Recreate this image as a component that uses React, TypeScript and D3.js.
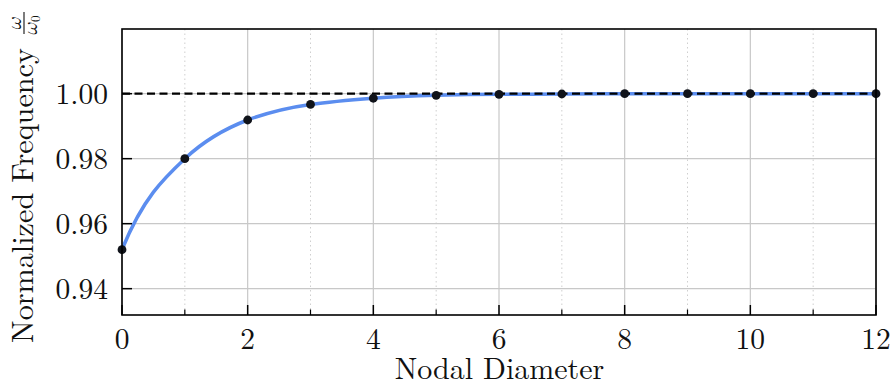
import React from "react";
import * as d3 from "d3";

const nodalDiameters = [0, 1, 2, 3, 4, 5, 6, 7, 8, 9, 10, 11, 12];
const normFreq = [0.952, 0.98, 0.9919, 0.9967, 0.9986, 0.9995, 0.9998, 0.9999, 1.0, 1.0, 1.0, 1.0, 1.0];
const xMajorTicks = [0, 2, 4, 6, 8, 10, 12];
const xMinorTicks = [1, 3, 5, 7, 9, 11];
const yTicks = [0.94, 0.96, 0.98, 1.0];
const refValue = 1.0;

const W = 892;
const H = 387;
const M = { left: 122, right: 16, top: 29, bottom: 72 };
const TS: React.CSSProperties = { fontFamily: '"Latin Modern Roman", serif' };
const MS: React.CSSProperties = { fontFamily: '"Latin Modern Math", "Latin Modern Roman", serif' };

// Smooth monotone cubic Hermite curve (d3 custom curve interface).
function smoothCurve(context: any) {
  let xs: number[] = [];
  let ys: number[] = [];
  return {
    areaStart() {},
    areaEnd() {},
    lineStart() {
      xs = [];
      ys = [];
    },
    point(x: number, y: number) {
      xs.push(+x);
      ys.push(+y);
    },
    lineEnd() {
      const n = xs.length;
      if (!n) return;
      context.moveTo(xs[0], ys[0]);
      if (n === 1) return;
      const s: number[] = [];
      for (let i = 0; i < n - 1; i++) s.push((ys[i + 1] - ys[i]) / (xs[i + 1] - xs[i]));
      const m: number[] = new Array(n).fill(0);
      for (let i = 1; i < n - 1; i++) {
        const s0 = s[i - 1], s1 = s[i];
        const r = s1 / s0;
        if (s0 !== 0 && r > 0.05 && r < 0.95 && i + 1 < n - 1) {
          const rn = s[i + 1] / s1;
          const q = rn > 0 && rn < 1 ? rn : r;
          const e = (s1 * -Math.log(q)) / (1 - q);
          const lim = 3 * Math.min(Math.abs(s0), Math.abs(s1));
          m[i] = Math.sign(e) * Math.min(Math.abs(e), lim);
        } else {
          const h0 = xs[i] - xs[i - 1], h1 = xs[i + 1] - xs[i];
          const p = (s0 * h1 + s1 * h0) / (h0 + h1);
          m[i] = (Math.sign(s0) + Math.sign(s1)) * Math.min(Math.abs(s0), Math.abs(s1), 0.5 * Math.abs(p)) || 0;
        }
      }
      const st = 3 * s[0] - 2 * m[1];
      m[0] = Math.abs(st) >= Math.abs(s[0]) && Math.sign(st) === Math.sign(s[0]) ? st : s[0];
      m[n - 1] = s[n - 2] === 0 ? 0 : (3 * s[n - 2] - m[n - 2]) / 2;
      for (let i = 0; i < n - 1; i++) {
        const h = xs[i + 1] - xs[i];
        context.bezierCurveTo(
          xs[i] + h / 3, ys[i] + (m[i] * h) / 3,
          xs[i + 1] - h / 3, ys[i + 1] - (m[i + 1] * h) / 3,
          xs[i + 1], ys[i + 1]
        );
      }
    },
  };
}

export default function App() {
  const x = d3.scaleLinear().domain([0, 12]).range([M.left, W - M.right]);
  const y = d3.scaleLinear().domain([0.9319, 1.0199]).range([H - M.bottom, M.top]);
  const pts: [number, number][] = nodalDiameters.map((d, i) => [d, normFreq[i]]);
  const line = d3
    .line<[number, number]>()
    .x((d) => x(d[0]))
    .y((d) => y(d[1]))
    .curve(smoothCurve as any);
  const x0 = M.left, x1 = W - M.right, y0 = M.top, y1 = H - M.bottom;

  return (
    <div style={{ position: "absolute", left: 0, top: 0 }}>
      <svg width={W} height={H} style={{ display: "block", background: "#fff" }}>
        <defs>
          <clipPath id="plot">
            <rect x={x0} y={y0} width={x1 - x0} height={y1 - y0} />
          </clipPath>
        </defs>
        {xMinorTicks.map((t) => (
          <line key={"mg" + t} x1={x(t)} x2={x(t)} y1={y0} y2={y1} stroke="#cfcfcf" strokeWidth={1} strokeDasharray="1.5,3" />
        ))}
        {xMajorTicks.map((t) => (
          <line key={"g" + t} x1={x(t)} x2={x(t)} y1={y0} y2={y1} stroke="#c8c8c8" strokeWidth={1.2} />
        ))}
        {yTicks.map((t) => (
          <line key={"yg" + t} x1={x0} x2={x1} y1={y(t)} y2={y(t)} stroke="#c8c8c8" strokeWidth={1.2} />
        ))}
        <g clipPath="url(#plot)">
          <path d={line(pts) || ""} fill="none" stroke="#5b8def" strokeWidth={3.5} />
          <line x1={x(0)} x2={x(12)} y1={y(refValue)} y2={y(refValue)} stroke="#000" strokeWidth={2.2} strokeDasharray="8,4.5" />
        </g>
        {pts.map((p, i) => (
          <circle key={"c" + i} cx={x(p[0])} cy={y(p[1])} r={4.4} fill="#10131a" />
        ))}
        {xMajorTicks.map((t) => (
          <line key={"t" + t} x1={x(t)} x2={x(t)} y1={y1} y2={y1 - 10} stroke="#000" strokeWidth={1.5} />
        ))}
        {xMinorTicks.map((t) => (
          <line key={"mt" + t} x1={x(t)} x2={x(t)} y1={y1} y2={y1 - 5.5} stroke="#000" strokeWidth={1.2} />
        ))}
        {yTicks.map((t) => (
          <line key={"yt" + t} x1={x0} x2={x0 + 10} y1={y(t)} y2={y(t)} stroke="#000" strokeWidth={1.5} />
        ))}
        <rect x={x0} y={y0} width={x1 - x0} height={y1 - y0} fill="none" stroke="#000" strokeWidth={1.6} />
        {xMajorTicks.map((t) => (
          <text key={"tl" + t} x={x(t)} y={348.5} textAnchor="middle" fontSize={29.5} fill="#111" style={TS}>
            {d3.format("d")(t)}
          </text>
        ))}
        {yTicks.map((t) => (
          <text key={"yl" + t} x={108} y={y(t) + 10} textAnchor="end" fontSize={29.5} fill="#111" style={TS}>
            {d3.format(".2f")(t)}
          </text>
        ))}
        <text x={(x0 + x1) / 2 + 0.5} y={378.5} textAnchor="middle" fontSize={30} fill="#111" style={TS}>
          Nodal Diameter
        </text>
        <g transform="translate(33,343) rotate(-90)">
          <text x={0} y={0} fontSize={30.2} fill="#111" style={TS}>
            Normalized Frequency
          </text>
          <text x={320} y={-12} fontSize={20} textAnchor="middle" fill="#111" style={MS}>𝜔</text>
          <line x1={309} x2={331} y1={-9} y2={-9} stroke="#111" strokeWidth={1.1} />
          <text x={318} y={4} fontSize={20} textAnchor="middle" fill="#111" style={MS}>
            𝜔<tspan fontSize={13} dy={3}>0</tspan>
          </text>
        </g>
      </svg>
    </div>
  );
}
